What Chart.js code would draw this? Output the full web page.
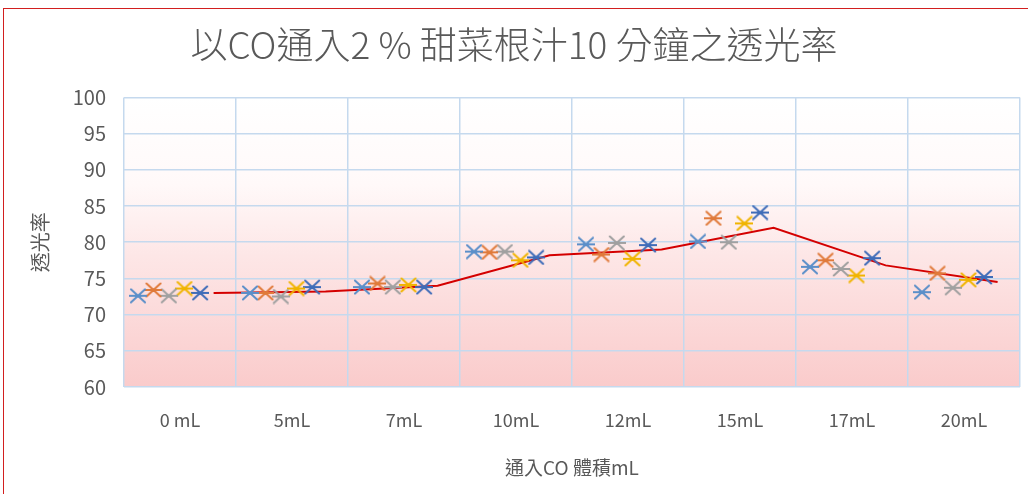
<!DOCTYPE html>
<html>
<head>
<meta charset="utf-8">
<script src="https://cdn.jsdelivr.net/npm/chart.js@4/dist/chart.umd.min.js"></script>
<style>
  html, body { margin: 0; padding: 0; background: #fff; }
  #wrap { position: relative; width: 1028px; height: 494px; }
  #frame { position: absolute; left: 3px; top: 8px; right: -4px; bottom: -4px; border-left: 1px solid #d21f1f; border-top: 1px solid #d21f1f; pointer-events: none; }
</style>
</head>
<body>
<div id="wrap">
  <canvas id="chart" width="1028" height="494"></canvas>
  <div id="frame"></div>
</div>
<script>
// --- data ---
const categories = ['0 mL', '5mL', '7mL', '10mL', '12mL', '15mL', '17mL', '20mL'];
const trial1 = [72.6, 73.0, 73.8, 78.7, 79.7, 80.1, 76.6, 73.1];
const trial2 = [73.4, 73.0, 74.3, 78.6, 78.3, 83.3, 77.5, 75.7];
const trial3 = [72.6, 72.5, 73.8, 78.7, 79.9, 80.0, 76.3, 73.7];
const trial4 = [73.6, 73.6, 74.1, 77.5, 77.7, 82.6, 75.4, 74.8];
const trial5 = [73.0, 73.8, 73.8, 77.9, 79.6, 84.1, 77.8, 75.2];
const average = [73.0, 73.2, 74.0, 78.2, 79.0, 82.0, 76.8, 74.5];
const yTicks = [60, 65, 70, 75, 80, 85, 90, 95, 100];

// where inside each category slot the marks sit (fraction of slot width)
const trialOffsets = [0.125, 0.263, 0.40, 0.54, 0.68];
const averageOffset = 0.8;
const trialColors = ['#5b8fc9', '#e07a3a', '#a0a0a0', '#f0b400', '#3f6cb8'];

const FONT = '"Noto Sans CJK TC", "Noto Sans", sans-serif';
const TEXT = '#595959';

// X + horizontal bar marker like the Excel one
function makeMarker(color) {
  const c = document.createElement('canvas');
  c.width = 18; c.height = 16;
  const g = c.getContext('2d');
  g.strokeStyle = color;
  g.lineWidth = 2;
  g.lineCap = 'round';
  g.beginPath();
  g.moveTo(2, 1.5); g.lineTo(16, 14.5);
  g.moveTo(16, 1.5); g.lineTo(2, 14.5);
  g.moveTo(0.5, 8); g.lineTo(17.5, 8);
  g.stroke();
  return c;
}

function toPoints(values, offset) {
  return values.map((v, i) => ({ x: i + offset, y: v }));
}

const trials = [trial1, trial2, trial3, trial4, trial5];
const datasets = trials.map((vals, k) => ({
  label: 'trial ' + (k + 1),
  data: toPoints(vals, trialOffsets[k]),
  showLine: false,
  pointStyle: makeMarker(trialColors[k]),
  borderColor: trialColors[k],
  backgroundColor: trialColors[k]
}));
datasets.push({
  label: 'average',
  data: toPoints(average, averageOffset),
  showLine: true,
  borderColor: '#d40000',
  borderWidth: 2,
  pointRadius: 0,
  tension: 0
});

// plot area fill: white at top fading into pink
const plotFill = {
  id: 'plotFill',
  beforeDraw(chart) {
    const { ctx, chartArea: a } = chart;
    const grad = ctx.createLinearGradient(0, a.top, 0, a.bottom);
    grad.addColorStop(0, 'rgba(255,255,255,1)');
    grad.addColorStop(0.3, 'rgba(255,249,249,1)');
    grad.addColorStop(0.55, 'rgba(253,230,230,1)');
    grad.addColorStop(1, 'rgba(250,203,203,1)');
    ctx.save();
    ctx.fillStyle = grad;
    ctx.fillRect(a.left, a.top, a.right - a.left, a.bottom - a.top);
    ctx.restore();
  }
};

new Chart(document.getElementById('chart'), {
  type: 'scatter',
  data: { datasets },
  plugins: [plotFill],
  options: {
    responsive: false,
    animation: false,
    layout: { padding: { left: 8, right: 8, top: 0, bottom: 10 } },
    plugins: {
      legend: { display: false },
      tooltip: { enabled: false },
      title: {
        display: true,
        text: '以CO通入2 % 甜菜根汁10 分鐘之透光率',
        color: TEXT,
        font: { family: FONT, size: 37, weight: 300 },
        padding: { top: 23, bottom: 30 }
      }
    },
    scales: {
      x: {
        type: 'linear',
        min: 0,
        max: categories.length,
        afterBuildTicks(scale) {
          const t = [];
          for (let i = 0; i <= categories.length * 2; i++) t.push({ value: i / 2 });
          scale.ticks = t;
        },
        afterFit(scale) {
          scale.height = 97;
          scale.paddingLeft = 0;
          scale.paddingRight = 0;
        },
        ticks: {
          autoSkip: false,
          maxRotation: 0,
          color: TEXT,
          font: { family: FONT, size: 18 },
          padding: 22,
          callback: (v) => (v % 1 === 0.5 ? categories[Math.floor(v)] : '')
        },
        grid: {
          drawTicks: false,
          color: (ctx) => (ctx.tick && ctx.tick.value % 1 === 0 ? '#c5d9ee' : 'rgba(0,0,0,0)'),
          lineWidth: 1.5
        },
        border: { display: false },
        title: {
          display: true,
          text: '通入CO 體積mL',
          color: TEXT,
          font: { family: FONT, size: 19 },
          padding: { top: 0, bottom: 5 }
        }
      },
      y: {
        min: 60,
        max: 100,
        afterBuildTicks(scale) { scale.ticks = yTicks.map(v => ({ value: v })); },
        afterFit(scale) { scale.width = 116; },
        ticks: {
          color: TEXT,
          font: { family: FONT, size: 20 },
          padding: 18
        },
        grid: { drawTicks: false, color: '#c5d9ee', lineWidth: 1.5 },
        border: { display: false },
        title: {
          display: true,
          text: '透光率',
          color: TEXT,
          font: { family: FONT, size: 20 },
          padding: { top: 20, bottom: 0 }
        }
      }
    }
  }
});
</script>
</body>
</html>
